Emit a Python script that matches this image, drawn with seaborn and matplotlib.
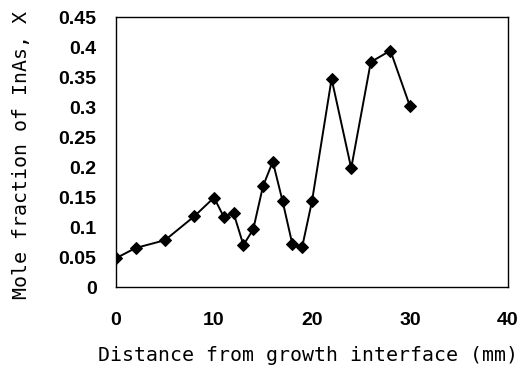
import matplotlib
matplotlib.use("Agg")
import matplotlib.pyplot as plt
import seaborn as sns
import pandas as pd

distance = [0, 2, 5, 8, 10, 11, 12, 13, 14, 15, 16, 17, 18, 19, 20, 22, 24, 26, 28, 30]
mole_fraction = [0.048, 0.065, 0.078, 0.118, 0.149, 0.117, 0.123, 0.070, 0.096, 0.168,
                 0.209, 0.143, 0.071, 0.067, 0.143, 0.347, 0.198, 0.375, 0.394, 0.301]
x_ticks = [0, 10, 20, 30, 40]
y_ticks = [0, 0.05, 0.1, 0.15, 0.2, 0.25, 0.3, 0.35, 0.4, 0.45]
y_tick_labels = ["0", "0.05", "0.1", "0.15", "0.2", "0.25", "0.3", "0.35", "0.4", "0.45"]

df = pd.DataFrame({"distance": distance, "x": mole_fraction})

sns.set_style("white")
fig = plt.figure(figsize=(5.22, 3.69), dpi=100)
ax = fig.add_axes([116/522, 1-287/369, (508-116)/522, (287-17)/369])

sns.lineplot(data=df, x="distance", y="x", ax=ax, color="black", linewidth=1.4,
             marker="D", markersize=6.5, markeredgecolor="black", markerfacecolor="black")

ax.set_xlim(0, 40)
ax.set_ylim(0, 0.45)
ax.set_xticks(x_ticks)
ax.set_xticklabels([str(t) for t in x_ticks], fontfamily="Liberation Sans", fontweight="bold", fontsize=14)
ax.set_yticks(y_ticks)
ax.set_yticklabels(y_tick_labels, fontfamily="Liberation Sans", fontweight="bold", fontsize=14)
ax.tick_params(axis="both", direction="in", length=6, width=1, colors="black", labelcolor="black")
ax.tick_params(axis="y", pad=14)
ax.tick_params(axis="x", pad=18)

for s in ax.spines.values():
    s.set_visible(True)
    s.set_color("black")
    s.set_linewidth(1.0)

ax.set_xlabel("Distance from growth interface (mm)", fontfamily="DejaVu Sans Mono",
              fontsize=14.3, color="black")
ax.set_ylabel("Mole fraction of InAs, X", fontfamily="DejaVu Sans Mono",
              fontsize=14.3, color="black")
ax.xaxis.set_label_coords((308 - 116) / 392, -(346 - 287) / 270)
ax.yaxis.set_label_coords(-(116 - 31) / 392, 0.49)
ax.grid(False)

fig.savefig("out.png", dpi=100, facecolor="white")
